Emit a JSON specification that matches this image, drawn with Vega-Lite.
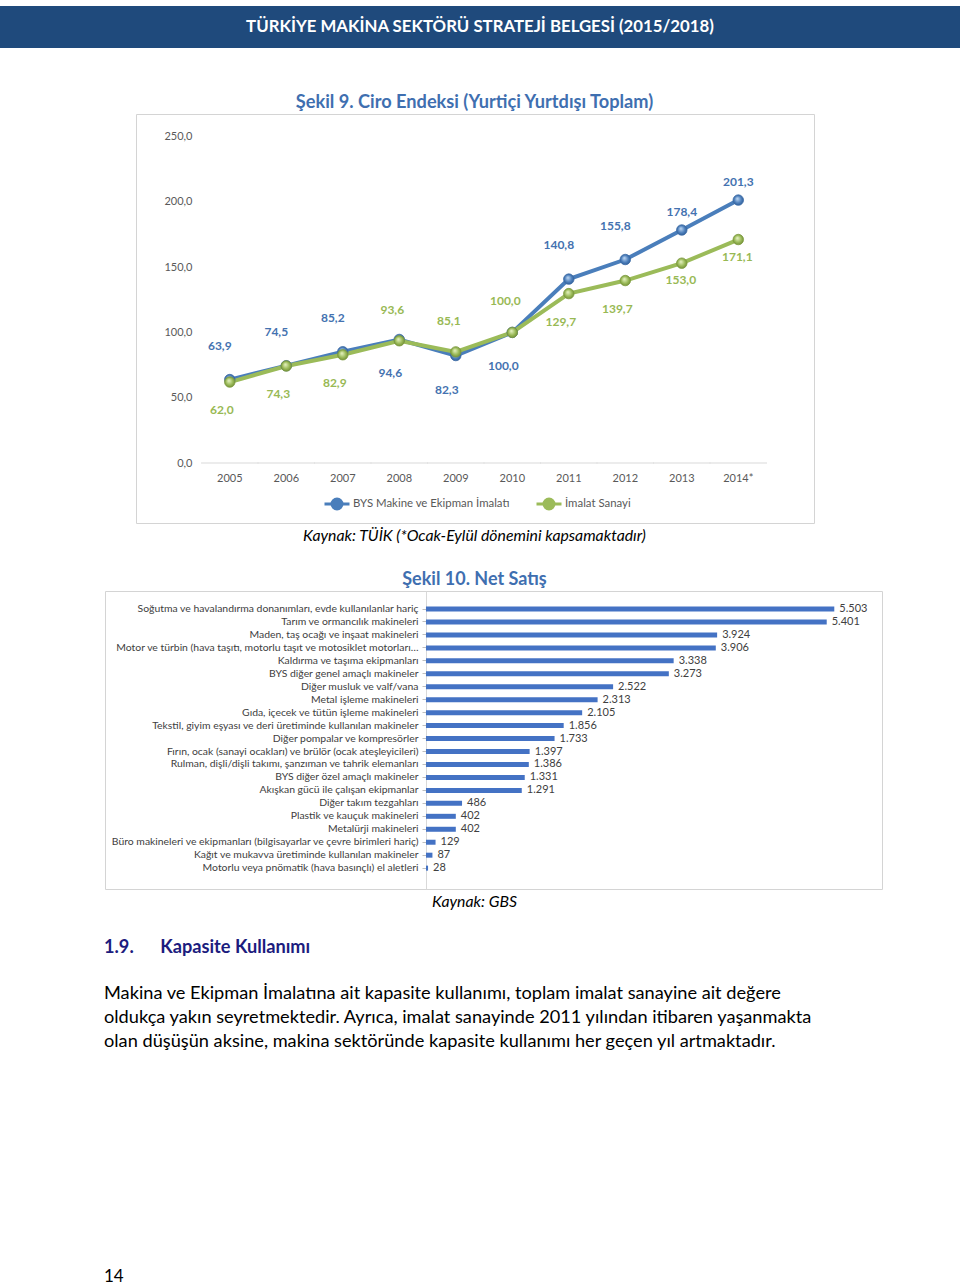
{
  "$schema": "https://vega.github.io/schema/vega-lite/v6.json",
  "background": "white",
  "padding": {"top": 6, "left": 0, "right": 0, "bottom": 0},
  "spacing": 0,
  "config": {
    "font": "Lato",
    "view": {"stroke": null},
    "concat": {"spacing": 0},
    "axis": {"grid": false, "title": null},
    "locale": {"number": {"decimal": ",", "thousands": ".", "grouping": [3], "currency": ["", " TL"]}}
  },
  "datasets": {
    "ciro": [
      {"year": "2005", "series": "BYS Makine ve Ekipman İmalatı", "value": 63.9},
      {"year": "2006", "series": "BYS Makine ve Ekipman İmalatı", "value": 74.5},
      {"year": "2007", "series": "BYS Makine ve Ekipman İmalatı", "value": 85.2},
      {"year": "2008", "series": "BYS Makine ve Ekipman İmalatı", "value": 94.6},
      {"year": "2009", "series": "BYS Makine ve Ekipman İmalatı", "value": 82.3},
      {"year": "2010", "series": "BYS Makine ve Ekipman İmalatı", "value": 100.0},
      {"year": "2011", "series": "BYS Makine ve Ekipman İmalatı", "value": 140.8},
      {"year": "2012", "series": "BYS Makine ve Ekipman İmalatı", "value": 155.8},
      {"year": "2013", "series": "BYS Makine ve Ekipman İmalatı", "value": 178.4},
      {"year": "2014*", "series": "BYS Makine ve Ekipman İmalatı", "value": 201.3},
      {"year": "2005", "series": "İmalat Sanayi", "value": 62.0},
      {"year": "2006", "series": "İmalat Sanayi", "value": 74.3},
      {"year": "2007", "series": "İmalat Sanayi", "value": 82.9},
      {"year": "2008", "series": "İmalat Sanayi", "value": 93.6},
      {"year": "2009", "series": "İmalat Sanayi", "value": 85.1},
      {"year": "2010", "series": "İmalat Sanayi", "value": 100.0},
      {"year": "2011", "series": "İmalat Sanayi", "value": 129.7},
      {"year": "2012", "series": "İmalat Sanayi", "value": 139.7},
      {"year": "2013", "series": "İmalat Sanayi", "value": 153.0},
      {"year": "2014*", "series": "İmalat Sanayi", "value": 171.1}
    ],
    "satis": [
      {"cat": "Soğutma ve havalandırma donanımları, evde kullanılanlar hariç", "value": 5503},
      {"cat": "Tarım ve ormancılık makineleri", "value": 5401},
      {"cat": "Maden, taş ocağı ve inşaat makineleri", "value": 3924},
      {"cat": "Motor ve türbin (hava taşıtı, motorlu taşıt ve motosiklet motorları…", "value": 3906},
      {"cat": "Kaldırma ve taşıma ekipmanları", "value": 3338},
      {"cat": "BYS diğer genel amaçlı makineler", "value": 3273},
      {"cat": "Diğer musluk ve valf/vana", "value": 2522},
      {"cat": "Metal işleme makineleri", "value": 2313},
      {"cat": "Gıda, içecek ve tütün işleme makineleri", "value": 2105},
      {"cat": "Tekstil, giyim eşyası ve deri üretiminde kullanılan makineler", "value": 1856},
      {"cat": "Diğer pompalar ve kompresörler", "value": 1733},
      {"cat": "Fırın, ocak (sanayi ocakları) ve brülör (ocak ateşleyicileri)", "value": 1397},
      {"cat": "Rulman, dişli/dişli takımı, şanzıman ve tahrik elemanları", "value": 1386},
      {"cat": "BYS diğer özel amaçlı makineler", "value": 1331},
      {"cat": "Akışkan gücü ile çalışan ekipmanlar", "value": 1291},
      {"cat": "Diğer takım tezgahları", "value": 486},
      {"cat": "Plastik ve kauçuk makineleri", "value": 402},
      {"cat": "Metalürji makineleri", "value": 402},
      {"cat": "Büro makineleri ve ekipmanları (bilgisayarlar ve çevre birimleri hariç)", "value": 129},
      {"cat": "Kağıt ve mukavva üretiminde kullanılan makineler", "value": 87},
      {"cat": "Motorlu veya pnömatik (hava basınçlı) el aletleri", "value": 28}
    ]
  },
  "vconcat": [
    {
      "width": 960, "height": 42,
      "view": {"fill": "#1f4a7c", "stroke": null},
      "data": {"values": [{"t": "TÜRKİYE MAKİNA SEKTÖRÜ STRATEJİ BELGESİ (2015/2018)"}]},
      "mark": {"type": "text", "color": "white", "fontSize": 16.8, "fontWeight": "bold", "baseline": "middle"},
      "encoding": {"text": {"field": "t"}}
    },
    {"width": 960, "height": 45, "data": {"values": [{}]}, "mark": {"type": "point", "opacity": 0}},
    {
      "width": 949, "height": 20,
      "data": {"values": [{"t": "Şekil 9. Ciro Endeksi (Yurtiçi Yurtdışı Toplam)"}]},
      "mark": {"type": "text", "color": "#3f6fb0", "fontSize": 18.2, "fontWeight": "bold", "baseline": "middle"},
      "encoding": {"text": {"field": "t"}}
    },
    {
      "hconcat": [
        {"width": 135, "height": 409, "data": {"values": [{}]}, "mark": {"type": "point", "opacity": 0}},
        {
          "width": 678, "height": 409,
          "view": {"stroke": "#d4d4d4", "strokeWidth": 1},
          "data": {"name": "ciro"},
          "encoding": {
            "x": {"field": "year", "type": "nominal",
              "scale": {"type": "band", "domain": ["2005", "2006", "2007", "2008", "2009", "2010", "2011", "2012", "2013", "2014*"], "paddingInner": 0, "paddingOuter": 1, "align": 0.58},
              "axis": {"orient": "bottom", "offset": -50.5, "domain": false, "ticks": false, "labelPadding": 0, "labelAngle": 0, "labelFontSize": 11, "labelColor": "#595959"}},
            "y": {"field": "value", "type": "quantitative",
              "scale": {"domain": [-45.9, 267.2], "nice": false, "zero": false},
              "axis": {"orient": "left", "offset": -60, "values": [0, 50, 100, 150, 200, 250], "format": ".1f", "domain": false, "ticks": false, "labelPadding": 4, "labelFontSize": 11, "labelColor": "#595959"}}
          },
          "layer": [
            {
              "transform": [{"filter": "datum.series === 'İmalat Sanayi'"}],
              "mark": {"type": "tick", "color": "#d9d9d9", "thickness": 1, "size": 57.5, "opacity": 1},
              "encoding": {"y": {"datum": 0, "type": "quantitative"}}
            },
            {
              "mark": {"type": "line", "strokeWidth": 4},
              "encoding": {
                "color": {"field": "series", "type": "nominal",
                  "scale": {"domain": ["BYS Makine ve Ekipman İmalatı", "İmalat Sanayi"], "range": ["#4a7ebb", "#9bbb59"]},
                  "legend": {"orient": "none", "legendX": 323, "legendY": 484, "direction": "horizontal", "title": null,
                    "symbolType": "M-1,0L-0.4,0M0.4,0L1,0M-0.4,0A0.4,0.4,0,1,1,0.4,0A0.4,0.4,0,1,1,-0.4,0Z",
                    "symbolSize": 625, "symbolStrokeWidth": 3, "labelFontSize": 11.4, "labelColor": "#595959",
                    "columnPadding": 20, "labelOffset": 2,
                    "encode": {"symbols": {"update": {"fill": {"scale": "color", "field": "value"}}}}}
                }
              }
            },
            {
              "transform": [{"filter": "datum.series === 'BYS Makine ve Ekipman İmalatı'"}],
              "mark": {"type": "point", "shape": "circle", "filled": true, "size": 110, "opacity": 1, "stroke": "#3a6aa5", "strokeWidth": 0.8,
                "fill": {"gradient": "radial", "x1": 0.4, "y1": 0.35, "r1": 0, "x2": 0.5, "y2": 0.5, "r2": 0.55,
                  "stops": [{"offset": 0, "color": "#c4dcf6"}, {"offset": 0.6, "color": "#4f81bd"}, {"offset": 1, "color": "#2c5a94"}]}}
            },
            {
              "transform": [{"filter": "datum.series === 'İmalat Sanayi'"}],
              "mark": {"type": "point", "shape": "circle", "filled": true, "size": 110, "opacity": 1, "stroke": "#7c9a3e", "strokeWidth": 0.8,
                "fill": {"gradient": "radial", "x1": 0.4, "y1": 0.35, "r1": 0, "x2": 0.5, "y2": 0.5, "r2": 0.55,
                  "stops": [{"offset": 0, "color": "#eaf5c8"}, {"offset": 0.6, "color": "#9bbb59"}, {"offset": 1, "color": "#6f8a35"}]}}
            },
            {
              "transform": [{"filter": "datum.series === 'BYS Makine ve Ekipman İmalatı' && indexof(['2005','2006','2007','2011','2012'], datum.year) >= 0"}],
              "mark": {"type": "text", "fontWeight": "bold", "fontSize": 12, "color": "#4472b0", "dy": -34, "dx": -10},
              "encoding": {"text": {"field": "value", "type": "quantitative", "format": ".1f"}}
            },
            {
              "transform": [{"filter": "datum.series === 'BYS Makine ve Ekipman İmalatı' && indexof(['2013','2014*'], datum.year) >= 0"}],
              "mark": {"type": "text", "fontWeight": "bold", "fontSize": 12, "color": "#4472b0", "dy": -18, "dx": 0},
              "encoding": {"text": {"field": "value", "type": "quantitative", "format": ".1f"}}
            },
            {
              "transform": [{"filter": "datum.series === 'BYS Makine ve Ekipman İmalatı' && indexof(['2008','2009','2010'], datum.year) >= 0"}],
              "mark": {"type": "text", "fontWeight": "bold", "fontSize": 12, "color": "#4472b0", "dy": 34, "dx": -9},
              "encoding": {"text": {"field": "value", "type": "quantitative", "format": ".1f"}}
            },
            {
              "transform": [{"filter": "datum.series === 'İmalat Sanayi' && indexof(['2005','2006','2007','2011','2012'], datum.year) >= 0"}],
              "mark": {"type": "text", "fontWeight": "bold", "fontSize": 12, "color": "#98b954", "dy": 28, "dx": -8},
              "encoding": {"text": {"field": "value", "type": "quantitative", "format": ".1f"}}
            },
            {
              "transform": [{"filter": "datum.series === 'İmalat Sanayi' && indexof(['2013','2014*'], datum.year) >= 0"}],
              "mark": {"type": "text", "fontWeight": "bold", "fontSize": 12, "color": "#98b954", "dy": 17, "dx": -1},
              "encoding": {"text": {"field": "value", "type": "quantitative", "format": ".1f"}}
            },
            {
              "transform": [{"filter": "datum.series === 'İmalat Sanayi' && indexof(['2008','2009','2010'], datum.year) >= 0"}],
              "mark": {"type": "text", "fontWeight": "bold", "fontSize": 12, "color": "#98b954", "dy": -31, "dx": -7},
              "encoding": {"text": {"field": "value", "type": "quantitative", "format": ".1f"}}
            }
          ]
        }
      ]
    },
    {
      "width": 949, "height": 24,
      "data": {"values": [{"t": "Kaynak: TÜİK (*Ocak-Eylül dönemini kapsamaktadır)"}]},
      "mark": {"type": "text", "color": "black", "fontSize": 15.8, "fontStyle": "italic", "baseline": "middle"},
      "encoding": {"text": {"field": "t"}}
    },
    {"width": 960, "height": 21, "data": {"values": [{}]}, "mark": {"type": "point", "opacity": 0}},
    {
      "width": 949, "height": 21,
      "data": {"values": [{"t": "Şekil 10. Net Satış"}]},
      "mark": {"type": "text", "color": "#3f6fb0", "fontSize": 18, "fontWeight": "bold", "baseline": "middle"},
      "encoding": {"text": {"field": "t"}}
    },
    {
      "hconcat": [
        {"width": 104, "height": 298, "data": {"values": [{}]}, "mark": {"type": "point", "opacity": 0}},
        {
          "width": 777, "height": 298,
          "view": {"stroke": "#d4d4d4", "strokeWidth": 1},
          "data": {"name": "satis"},
          "encoding": {
            "y": {"field": "cat", "type": "nominal", "sort": null,
              "scale": {"type": "band", "paddingInner": 0, "paddingOuter": 1, "align": 0.445},
              "axis": {"orient": "left", "offset": -321, "domainColor": "#d9d9d9", "tickColor": "#bfbfbf", "tickSize": 4, "labelPadding": 4, "labelLimit": 500, "labelFontSize": 10.4, "labelColor": "#404040"}},
            "x": {"field": "value", "type": "quantitative",
              "scale": {"domain": [-4326, 6146], "nice": false, "zero": false}, "axis": null}
          },
          "layer": [
            {"mark": {"type": "bar", "color": "#4472c4", "height": 5}, "encoding": {"x2": {"datum": 0}}},
            {"mark": {"type": "text", "align": "left", "baseline": "middle", "dx": 5, "fontSize": 11, "color": "#404040"},
              "encoding": {"text": {"field": "value", "type": "quantitative", "format": ",d"}}}
          ]
        }
      ]
    },
    {
      "width": 949, "height": 24,
      "data": {"values": [{"t": "Kaynak: GBS"}]},
      "mark": {"type": "text", "color": "black", "fontSize": 15.8, "fontStyle": "italic", "baseline": "middle"},
      "encoding": {"text": {"field": "t"}}
    },
    {
      "hconcat": [
        {"width": 104, "height": 10, "data": {"values": [{}]}, "mark": {"type": "point", "opacity": 0}},
        {
          "vconcat": [
            {
              "width": 760, "height": 68,
              "data": {"values": [{"t": "1.9.\u00a0\u00a0\u00a0\u00a0\u00a0\u00a0Kapasite Kullanımı"}]},
              "mark": {"type": "text", "align": "left", "baseline": "middle", "color": "#1c1c7e", "fontSize": 18.2, "fontWeight": "bold"},
              "encoding": {"x": {"value": 0}, "text": {"field": "t"}}
            },
            {
              "width": 760, "height": 72,
              "data": {"values": [
                {"t": "Makina ve Ekipman İmalatına ait kapasite kullanımı, toplam imalat sanayine ait değere"},
                {"t": "oldukça yakın seyretmektedir. Ayrıca, imalat sanayinde 2011 yılından itibaren yaşanmakta"},
                {"t": "olan düşüşün aksine, makina sektöründe kapasite kullanımı her geçen yıl artmaktadır."}
              ]},
              "mark": {"type": "text", "align": "left", "baseline": "middle", "color": "black", "fontSize": 18.2},
              "encoding": {
                "x": {"value": 0},
                "y": {"field": "t", "type": "nominal", "sort": null, "scale": {"type": "band", "paddingInner": 0, "paddingOuter": 0}, "axis": null},
                "text": {"field": "t"}
              }
            },
            {"width": 10, "height": 214, "data": {"values": [{}]}, "mark": {"type": "point", "opacity": 0}},
            {
              "width": 100, "height": 18,
              "data": {"values": [{"t": "14"}]},
              "mark": {"type": "text", "align": "left", "baseline": "middle", "color": "black", "fontSize": 17},
              "encoding": {"x": {"value": 0}, "text": {"field": "t"}}
            }
          ]
        }
      ]
    }
  ]
}
